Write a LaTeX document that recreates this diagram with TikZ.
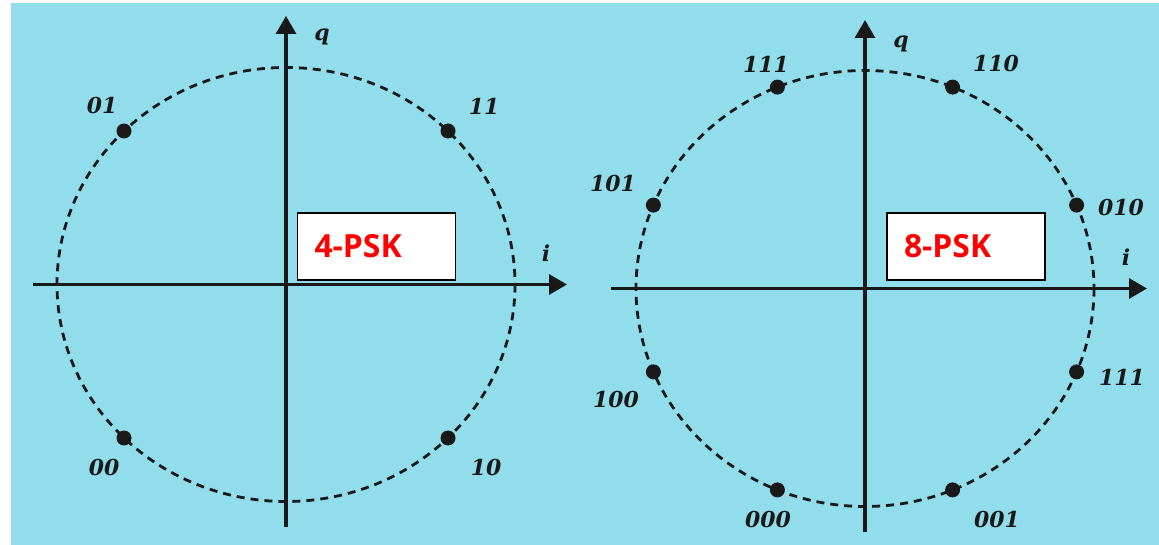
\documentclass[tikz,border=0pt]{standalone}
\usepackage{fontspec}
\usetikzlibrary{arrows.meta}
\newfontfamily\lblfont{DejaVu Serif}
\newfontfamily\pskfont{Open Sans}
\definecolor{bgblue}{RGB}{145,221,235}
\definecolor{ink}{RGB}{25,25,25}
\tikzset{
  axisline/.style={line width=3.2bp, draw=ink, -{Triangle[length=18bp,width=20bp]}},
  ring/.style={line width=2.8bp, draw=ink, dash pattern=on 8bp off 6bp},
  dot/.style={circle, fill=ink, inner sep=0pt, minimum size=15bp},
  lbl/.style={font=\lblfont\bfseries\itshape\fontsize{22}{22}\selectfont, text=ink, inner sep=0pt},
  pskbox/.style={draw=black, fill=white, line width=1.8bp, minimum width=158bp, minimum height=67bp,
    text width=124bp, inner xsep=17bp, align=left, text=red,
    font=\pskfont\bfseries\fontsize{32}{32}\selectfont},
}
\begin{document}
\begin{tikzpicture}[x=1bp,y=-1bp]
\useasboundingbox (0,0) rectangle (1159,545);
\fill[white] (0,0) rectangle (1159,545);
\fill[bgblue] (11,3) rectangle (1159,545);

% ---------- 4-PSK ----------
\coordinate (Lc) at (286,284.5);
\coordinate (Lvb) at (286,527);
\coordinate (Lvt) at (286,16);
\coordinate (Lhl) at (33,284.5);
\coordinate (Lhr) at (567,284.5);
\draw[ring] (Lc) ellipse [x radius=229, y radius=217];
\draw[axisline] (Lvb) -- (Lvt);
\draw[axisline] (Lhl) -- (Lhr);
\node[lbl] (Lq) at (322,37) {q};
\node[lbl] (Li) at (546,253) {i};
\node[dot] (p01) at (124,131) {};
\node[dot] (p11) at (448,131) {};
\node[dot] (p00) at (124,438) {};
\node[dot] (p10) at (448,438) {};
\node[lbl] (l01) at (102,106) {01};
\node[lbl] (l11) at (484,106) {11};
\node[lbl] (l00) at (104,468) {00};
\node[lbl] (l10) at (486,468) {10};
\node[pskbox] (box4) at (376.5,246.5) {4-PSK};

% ---------- 8-PSK ----------
\coordinate (Rc) at (865,288.5);
\coordinate (Rvb) at (865,532);
\coordinate (Rvt) at (865,20);
\coordinate (Rhl) at (611,288.5);
\coordinate (Rhr) at (1147,288.5);
\draw[ring] (Rc) ellipse [x radius=229, y radius=218];
\draw[axisline] (Rvb) -- (Rvt);
\draw[axisline] (Rhl) -- (Rhr);
\node[lbl] (Rq) at (901,44) {q};
\node[lbl] (Ri) at (1126,257) {i};
\node[dot] (s110) at (952.6,87.1) {};
\node[dot] (s111a) at (777.4,87.1) {};
\node[dot] (s000) at (777.4,489.9) {};
\node[dot] (s001) at (952.6,489.9) {};
\node[dot] (s010) at (1076.6,205.1) {};
\node[dot] (s101) at (653.4,205.1) {};
\node[dot] (s100) at (653.4,371.9) {};
\node[dot] (s111b) at (1076.6,371.9) {};
\node[lbl] (t111a) at (766,64) {111};
\node[lbl] (t110) at (996,64) {110};
\node[lbl] (t101) at (613,184) {101};
\node[lbl] (t010) at (1121,208) {010};
\node[lbl] (t100) at (616,400) {100};
\node[lbl] (t111b) at (1122,377) {111};
\node[lbl] (t000) at (768,520) {000};
\node[lbl] (t001) at (997,520) {001};
\node[pskbox] (box8) at (966,246.5) {8-PSK};
\end{tikzpicture}
\end{document}
